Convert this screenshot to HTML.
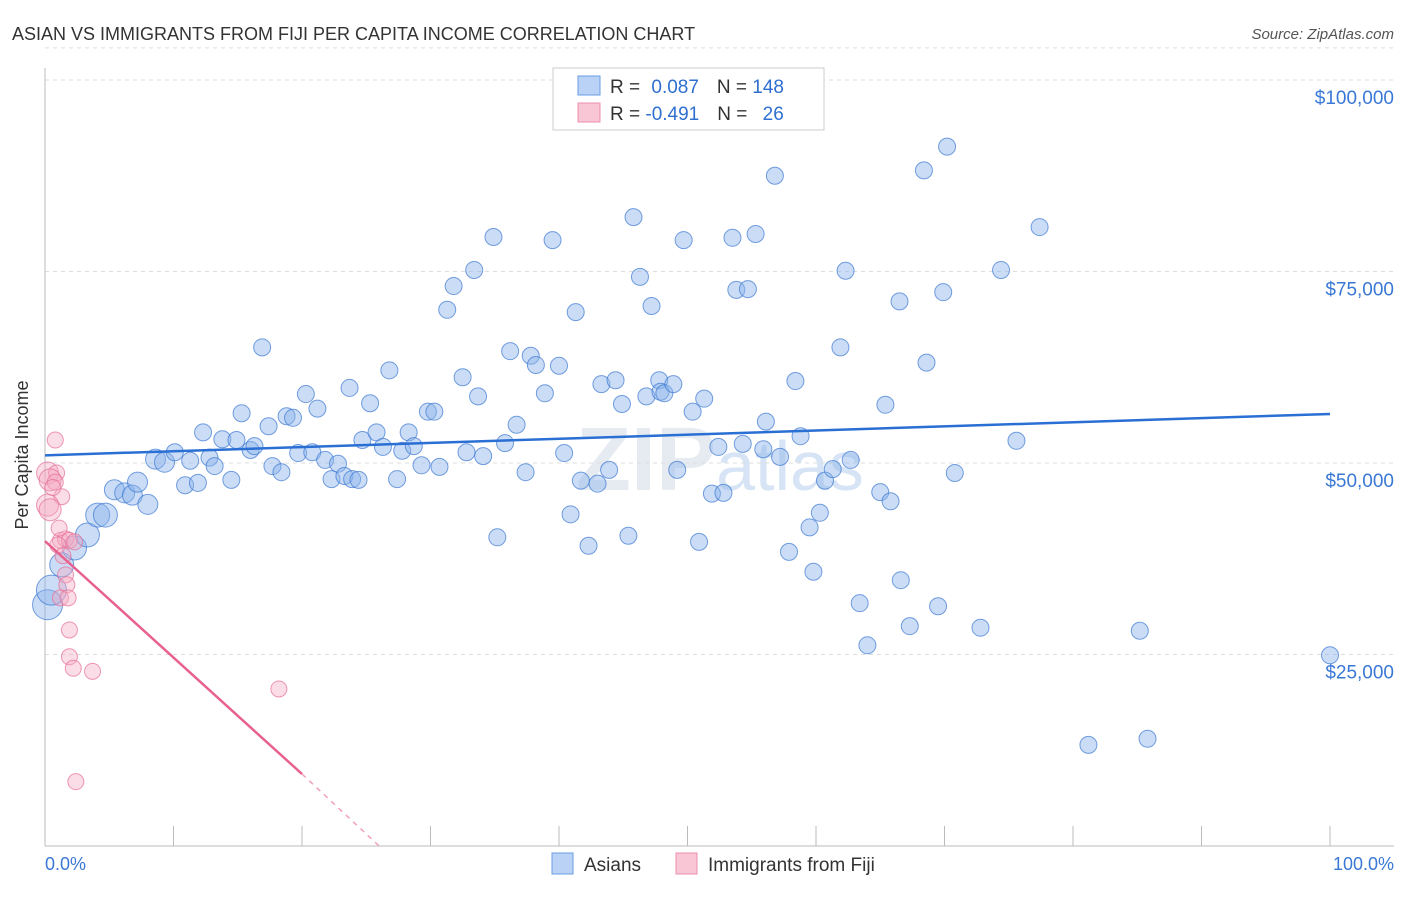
<!DOCTYPE html>
<html><head><meta charset="utf-8"><style>
body{margin:0;background:#fff;font-family:"Liberation Sans",sans-serif}
svg text{font-family:"Liberation Sans",sans-serif}
</style></head><body>
<svg id="chart" width="1406" height="892">
<text x="12" y="40" font-size="18" fill="#333">ASIAN VS IMMIGRANTS FROM FIJI PER CAPITA INCOME CORRELATION CHART</text>
<text x="1394" y="39" font-size="15" fill="#555" font-style="italic" text-anchor="end">Source: ZipAtlas.com</text>
<text x="720" y="490" font-size="90" fill="#e6ebf2" text-anchor="middle" font-weight="bold">ZIP<tspan font-weight="normal" fill="#d6e4f5" font-size="70">atlas</tspan></text>
<g id="grid"></g>
<line x1="45" y1="68" x2="45" y2="846" stroke="#bbb"/>
<line x1="45" y1="846" x2="1394" y2="846" stroke="#bbb"/>
<g id="xticks"></g>
<text x="28" y="455" font-size="18" fill="#333" text-anchor="middle" transform="rotate(-90 28 455)">Per Capita Income</text>
<text x="45" y="870" font-size="18" fill="#3a78d6">0.0%</text>
<text x="1394" y="870" font-size="18" fill="#3a78d6" text-anchor="end">100.0%</text>
<g id="pts"></g>
<g id="trend"></g>
<g>
<rect x="553" y="68" width="271" height="62" fill="#fff" stroke="#ccc"/>
<rect x="578" y="76" width="22" height="19" fill="#b9d2f5" stroke="#6a9ee6"/>
<rect x="578" y="103" width="22" height="19" fill="#f8c6d4" stroke="#ec8fab"/>
<text x="610" y="93" font-size="19" fill="#333">R = <tspan fill="#2e6fd0" dx="6">0.087</tspan><tspan dx="18" fill="#333">N = </tspan><tspan fill="#2e6fd0">148</tspan></text>
<text x="610" y="120" font-size="19" fill="#333">R = <tspan fill="#2e6fd0">-0.491</tspan><tspan dx="18" fill="#333">N = </tspan><tspan fill="#2e6fd0" dx="10">26</tspan></text>
</g>
<g>
<rect x="552" y="853" width="21" height="21" fill="#b9d2f5" stroke="#6a9ee6"/>
<text x="584" y="871" font-size="19" fill="#333">Asians</text>
<rect x="676" y="853" width="21" height="21" fill="#f8c6d4" stroke="#ec8fab"/>
<text x="708" y="871" font-size="19" fill="#333">Immigrants from Fiji</text>
</g>
</svg>
<script>
const yTicks=[25000,50000,75000,100000];
const yTickLabels=["$25,000","$50,000","$75,000","$100,000"];
const xTicks=[0,10,20,30,40,50,60,70,80,90,100];
const asianX=[0.2,0.5,1.3,2.3,3.3,4.1,4.7,5.4,6.2,6.8,7.2,8.0,8.6,9.3,10.1,10.9,11.3,11.9,12.3,12.8,13.2,13.8,14.5,14.9,15.3,16.0,16.3,16.9,17.4,17.7,18.4,18.8,19.3,19.7,20.3,20.8,21.2,21.8,22.3,22.8,23.3,23.9,24.4,24.7,23.7,25.3,25.8,26.3,26.8,27.4,27.8,28.3,28.7,29.3,29.8,30.3,30.7,31.3,31.8,32.5,32.8,33.4,33.7,34.1,34.9,35.2,35.8,36.2,36.7,37.4,37.8,38.2,38.9,39.5,40.0,40.4,40.9,41.3,41.7,42.3,43.0,43.3,43.9,44.4,44.9,45.4,45.8,46.3,46.8,47.2,47.8,47.9,48.2,48.9,49.2,49.7,50.4,50.9,51.3,51.9,52.4,52.8,53.5,53.8,54.7,54.3,55.3,55.9,56.1,56.8,57.2,57.9,58.4,58.8,59.5,59.8,60.3,60.7,61.3,61.9,62.3,62.7,63.4,64.0,65.0,65.4,65.8,66.5,66.6,67.3,68.4,68.6,69.5,69.9,70.2,70.8,72.8,74.4,75.6,77.4,81.2,85.2,85.8,100];
const asianY=[31.5,33.4,36.7,38.9,40.6,43.2,43.2,46.5,46.1,45.8,47.5,44.6,50.5,50.1,51.4,47.1,50.3,47.4,54.0,50.7,49.6,53.1,47.8,53.0,56.5,51.7,52.2,65.1,54.8,49.6,48.8,56.1,55.9,51.3,59.0,51.4,57.1,50.4,47.9,49.9,48.3,47.9,47.8,53.0,59.8,57.8,54.0,52.1,62.1,47.9,51.6,54.0,52.2,49.7,56.7,56.7,49.5,70.0,73.1,61.2,51.4,75.2,58.7,50.9,79.5,40.3,52.6,64.6,55.0,48.8,64.0,62.8,59.1,79.1,62.7,51.3,43.3,69.7,47.7,39.2,47.3,60.3,49.1,60.8,57.7,40.5,82.1,74.3,58.7,70.5,60.8,59.3,59.1,60.3,49.1,79.1,56.7,39.7,58.4,46.0,52.1,46.1,79.4,72.6,72.7,52.5,79.9,51.8,55.4,87.5,50.8,38.4,60.7,53.5,41.6,35.8,43.5,47.7,49.2,65.1,75.1,50.4,31.7,26.2,46.2,57.6,45.0,71.1,34.7,28.7,88.2,63.1,31.3,72.3,91.3,48.7,28.5,75.2,52.9,80.8,13.2,28.1,14.0,24.9];
const fijiX=[0.8,0.2,0.9,0.4,0.8,1.3,0.2,0.4,1.2,1.6,1.9,1.0,2.3,1.4,1.6,1.7,1.2,1.8,1.9,1.9,2.2,3.7,18.2,2.4,0.6,1.1];
const fijiY=[53.0,48.7,48.7,47.8,47.5,45.6,44.5,43.9,39.9,40.1,39.9,39.3,39.7,37.9,35.4,34.1,32.4,32.4,28.2,24.7,23.2,22.8,20.5,8.4,46.8,41.5];
const asianTrend=[0,100], asianTrendY=[51.0,56.4];
const fijiTrend=[0,20,26], fijiTrendY=[39.8,9.4,0];

const NS="http://www.w3.org/2000/svg";
const X=p=>45+p*12.85, Y=k=>846-k*1000/25000*191.5;
function mk(t,a,parent){const e=document.createElementNS(NS,t);for(const k in a)e.setAttribute(k,a[k]);parent.appendChild(e);return e;}
const grid=document.getElementById('grid');
yTicks.forEach((v,i)=>{
  const l=mk('line',{x1:45,x2:1394,y1:Y(v/1000),y2:Y(v/1000),stroke:'#ddd','stroke-dasharray':'4,4'},grid);
  
  
  const t=mk('text',{x:1394,y:Y(v/1000)+24,'font-size':19,fill:'#3a78d6','text-anchor':'end'},grid);
  t.textContent=yTickLabels[i];
  
  
});
mk('line',{x1:45,x2:1394,y1:Y(104.2),y2:Y(104.2),stroke:'#ddd','stroke-dasharray':'4,4'},grid);
const xt=document.getElementById('xticks');
xTicks.forEach(v=>{
  const l=mk('line',{x1:X(v),x2:X(v),y1:826,y2:846,stroke:'#bbb'},xt);
  
  
});
const pts=document.getElementById('pts');
asianX.forEach((x,i)=>{
  const r=x<1?15:(x<5?12:(x<10?10:8.5));
  const c=mk('circle',{cx:X(x),cy:Y(asianY[i]),r:r,fill:'rgba(140,180,235,0.45)',stroke:'rgba(60,120,210,0.7)','stroke-width':1},pts);
  
  
});
fijiX.forEach((x,i)=>{
  const r=(x<0.5)?11:8;
  const c=mk('circle',{cx:X(x),cy:Y(fijiY[i]),r:r,fill:'rgba(245,170,195,0.4)',stroke:'rgba(230,110,150,0.7)','stroke-width':1},pts);
  
  
});
const tr=document.getElementById('trend');
const a=mk('line',{x1:X(asianTrend[0]),y1:Y(asianTrendY[0]),x2:X(asianTrend[1]),y2:Y(asianTrendY[1]),stroke:'#2a6fd4','stroke-width':2.5},tr);


const f=mk('line',{x1:X(fijiTrend[0]),y1:Y(fijiTrendY[0]),x2:X(fijiTrend[1]),y2:Y(fijiTrendY[1]),stroke:'#e8608e','stroke-width':2.5},tr);


const fd=mk('line',{x1:X(fijiTrend[1]),y1:Y(fijiTrendY[1]),x2:X(fijiTrend[2]),y2:Y(fijiTrendY[2]),stroke:'#f0a0bb','stroke-width':1.5,'stroke-dasharray':'5,5'},tr);


</script>
</body></html>
